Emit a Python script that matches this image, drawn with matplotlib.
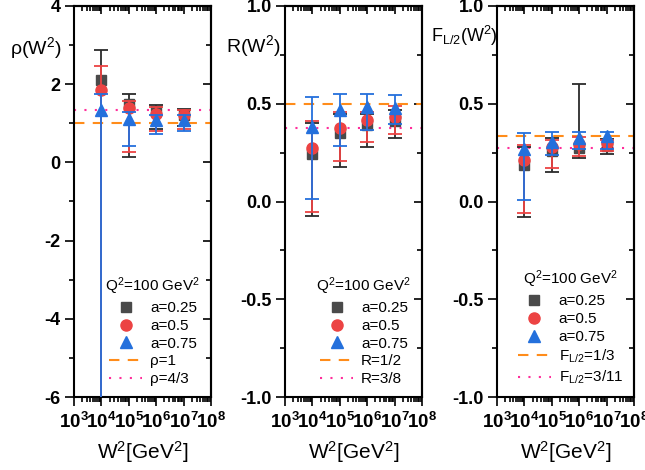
import numpy as np
import matplotlib
matplotlib.use("Agg")
import matplotlib.pyplot as plt
from matplotlib.lines import Line2D
from matplotlib.ticker import LogLocator, FuncFormatter, NullFormatter

plt.rcParams["font.family"] = ["Liberation Sans", "DejaVu Sans"]
plt.rcParams["mathtext.fontset"] = "custom"
plt.rcParams["mathtext.rm"] = "Liberation Sans"
plt.rcParams["mathtext.it"] = "Liberation Sans"
plt.rcParams["mathtext.bf"] = "Liberation Sans:bold"
plt.rcParams["axes.unicode_minus"] = False

# W^2 values (GeV^2)
w2 = [1e4, 1e5, 1e6, 1e7]
xticks = [1e3, 1e4, 1e5, 1e6, 1e7, 1e8]

# panel 1: rho(W^2) -- central value, lower end, upper end of error bar
rho_025 = [2.12, 1.50, 1.31, 1.22]
rho_025_lo = [-9.0, 0.13, 0.85, 0.92]
rho_025_hi = [2.87, 1.76, 1.47, 1.37]
rho_050 = [1.85, 1.38, 1.25, 1.21]
rho_050_lo = [-9.0, 0.27, 0.80, 0.86]
rho_050_hi = [2.46, 1.58, 1.41, 1.33]
rho_075 = [1.35, 1.11, 1.08, 1.08]
rho_075_lo = [-9.0, 0.43, 0.72, 0.80]
rho_075_hi = [1.76, 1.30, 1.21, 1.22]

# panel 2: R(W^2)
r_025 = [0.244, 0.350, 0.393, 0.410]
r_025_lo = [-0.073, 0.179, 0.280, 0.325]
r_025_hi = [0.400, 0.447, 0.450, 0.468]
r_050 = [0.273, 0.376, 0.415, 0.430]
r_050_lo = [-0.053, 0.208, 0.306, 0.347]
r_050_hi = [0.410, 0.458, 0.460, 0.486]
r_075 = [0.379, 0.470, 0.483, 0.478]
r_075_lo = [0.012, 0.285, 0.367, 0.396]
r_075_hi = [0.533, 0.548, 0.550, 0.543]

# panel 3: F_L/2(W^2)
f_025 = [0.188, 0.257, 0.274, 0.283]
f_025_lo = [-0.080, 0.153, 0.221, 0.245]
f_025_hi = [0.280, 0.326, 0.600, 0.320]
f_050 = [0.214, 0.277, 0.296, 0.300]
f_050_lo = [-0.060, 0.173, 0.235, 0.257]
f_050_hi = [0.291, 0.313, 0.330, 0.313]
f_075 = [0.269, 0.303, 0.327, 0.337]
f_075_lo = [0.010, 0.238, 0.266, 0.270]
f_075_hi = [0.349, 0.354, 0.354, 0.354]

a_labels = ["a=0.25", "a=0.5", "a=0.75"]
legend_title = "Q$^2$=100 GeV$^2$"

panels = [
    dict(series=[(rho_025, rho_025_lo, rho_025_hi), (rho_050, rho_050_lo, rho_050_hi),
                 (rho_075, rho_075_lo, rho_075_hi)],
         ylim=(-6, 4), major=[-6, -4, -2, 0, 2, 4], minor=[-5, -3, -1, 1, 3],
         fmt="%d", hlines=(1.0, 4 / 3), hlabels=("ρ=1", "ρ=4/3"),
         ylabel="ρ(W$^2$)", ylab_pos=(10, 54), ylab_size=14, left=74),
    dict(series=[(r_025, r_025_lo, r_025_hi), (r_050, r_050_lo, r_050_hi),
                 (r_075, r_075_lo, r_075_hi)],
         ylim=(-1, 1), major=[-1, -0.5, 0, 0.5, 1], minor=[-0.75, -0.25, 0.25, 0.75],
         fmt="%.1f", hlines=(0.5, 3 / 8), hlabels=("R=1/2", "R=3/8"),
         ylabel="R(W$^2$)", ylab_pos=(226, 52), ylab_size=14, left=285),
    dict(series=[(f_025, f_025_lo, f_025_hi), (f_050, f_050_lo, f_050_hi),
                 (f_075, f_075_lo, f_075_hi)],
         ylim=(-1, 1), major=[-1, -0.5, 0, 0.5, 1], minor=[-0.75, -0.25, 0.25, 0.75],
         fmt="%.1f", hlines=(1 / 3, 3 / 11), hlabels=("F$_{L/2}$=1/3", "F$_{L/2}$=3/11"),
         ylabel="F$_{L/2}$(W$^2$)", ylab_pos=(431, 42), ylab_size=13, left=497),
]

colors = ["#4a4a4a", "#ec4343", "#2470dc"]
ecolors = ["#2b2b2b", "#ec4343", "#2470dc"]
markers = ["s", "o", "^"]
msizes = [7, 8, 8.5]
dash_color = "#ff8c1a"
dot_color = "#ff2d9b"

W, H = 645, 470
fig = plt.figure(figsize=(W / 100, H / 100), dpi=100)

xfmt = FuncFormatter(lambda v, p: r"$\mathbf{10^{%d}}$" % int(round(np.log10(v))))

for p in panels:
    ax = fig.add_axes([p["left"] / W, (H - 397) / H, 137 / W, 391 / H])
    for i, (y, lo, hi) in enumerate(p["series"]):
        y = np.array(y)
        yerr = [y - np.array(lo), np.array(hi) - y]
        ax.errorbar(w2, y, yerr=yerr, fmt=markers[i], color=colors[i], ecolor=ecolors[i],
                    ms=msizes[i], mec=colors[i], elinewidth=1.3, capsize=5, capthick=1.3,
                    zorder=3 + i)
    ax.axhline(p["hlines"][0], color=dash_color, ls=(0, (5, 4)), lw=1.5, zorder=2)
    ax.axhline(p["hlines"][1], color=dot_color, ls=(0, (1, 4)), lw=1.5, zorder=2)

    ax.set_xscale("log")
    ax.set_xlim(1e3, 1e8)
    ax.set_ylim(*p["ylim"])
    ax.set_yticks(p["major"])
    ax.set_yticks(p["minor"], minor=True)
    ax.yaxis.set_major_formatter(FuncFormatter(lambda v, pos, f=p["fmt"]: f % v))
    ax.set_xticks(xticks)
    ax.xaxis.set_minor_locator(LogLocator(base=10, subs=np.arange(2, 10), numticks=20))
    ax.xaxis.set_major_formatter(xfmt)
    ax.xaxis.set_minor_formatter(NullFormatter())
    ax.tick_params(which="both", direction="out", width=1.2)
    ax.tick_params(which="major", length=6.5)
    ax.tick_params(which="minor", length=3.5)
    ax.tick_params(axis="y", labelsize=13, pad=3)
    ax.tick_params(axis="x", labelsize=13.5, pad=4)
    for lab in ax.get_yticklabels():
        lab.set_fontweight("bold")
    for s in ax.spines.values():
        s.set_linewidth(1.5)
    ax.set_xlabel("W$^2$[GeV$^2$]", fontsize=15, labelpad=5)

    # inward ticks on the right and top
    ry = ax.secondary_yaxis("right")
    ry.set_yticks(p["major"])
    ry.set_yticks(p["minor"], minor=True)
    ry.tick_params(which="both", direction="in", width=1.2, labelright=False)
    ry.tick_params(which="major", length=6)
    ry.tick_params(which="minor", length=3.5)
    ry.spines["right"].set_linewidth(1.5)
    tx = ax.secondary_xaxis("top")
    tx.set_xticks(xticks)
    tx.xaxis.set_minor_locator(LogLocator(base=10, subs=np.arange(2, 10), numticks=20))
    tx.tick_params(which="both", direction="in", width=1.2, labeltop=False)
    tx.tick_params(which="major", length=6)
    tx.tick_params(which="minor", length=3.5)
    tx.spines["top"].set_linewidth(1.5)

    handles = [Line2D([], [], ls="none", marker=markers[i], color=colors[i], ms=msizes[i])
               for i in range(3)]
    handles += [Line2D([], [], color=dash_color, ls=(0, (5, 4)), lw=1.5),
                Line2D([], [], color=dot_color, ls=(0, (1, 4)), lw=1.5)]
    ax.legend(handles, a_labels + list(p["hlabels"]), title=legend_title, frameon=False,
              loc="lower right", bbox_to_anchor=(1.0, 0.0), fontsize=11, title_fontsize=11,
              handlelength=2.2, handletextpad=0.5, labelspacing=0.25, borderaxespad=0.3)

    fig.text(p["ylab_pos"][0] / W, 1 - p["ylab_pos"][1] / H, p["ylabel"],
             fontsize=p["ylab_size"], ha="left", va="baseline")

fig.savefig("out.png", dpi=100)
